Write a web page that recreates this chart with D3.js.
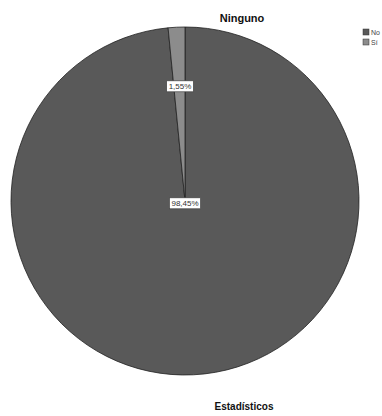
<!DOCTYPE html>
<html><head><meta charset="utf-8">
<script src="https://cdn.jsdelivr.net/npm/d3@7"></script>
<style>body{margin:0;background:#fff}svg{display:block}</style>
</head><body>
<svg id="c" width="382" height="416"></svg>
<script>
const categories = ["No", "Sí"];
const values = [98.45, 1.55];
const labels = ["98,45%", "1,55%"];
const colors = ["#595959", "#8c8c8c"];
const title = "Ninguno";
const footer = "Estadísticos";

const svg = d3.select("#c");
const cx = 185, cy = 201, r = 174;
const pie = d3.pie().sort(null).value(d => d)(values);
const arc = d3.arc().innerRadius(0).outerRadius(r);
const g = svg.append("g").attr("transform", `translate(${cx},${cy})`);
g.selectAll("path").data(pie).join("path")
  .attr("d", arc).attr("fill", (d,i) => colors[i])
  .attr("stroke", "#222").attr("stroke-width", 0.8);

// labels
const labelPos = [[0, 2], [-5, -115]];
pie.forEach((d,i) => {
  const lg = g.append("g").attr("transform", `translate(${labelPos[i][0]},${labelPos[i][1]})`);
  const t = lg.append("text").text(labels[i]).attr("text-anchor","middle").attr("dy","0.35em")
    .attr("font-family","Liberation Sans, Arial, sans-serif").attr("font-size", 8).attr("fill","#333");
  const bb = t.node().getBBox();
  lg.insert("rect","text").attr("x", bb.x-2).attr("y", bb.y-1).attr("width", bb.width+4).attr("height", bb.height+2)
    .attr("fill","#fff").attr("stroke","#444").attr("stroke-width",0.7);
});

svg.append("text").text(title).attr("x", 242).attr("y", 22).attr("text-anchor","middle")
  .attr("font-family","Liberation Sans, Arial, sans-serif").attr("font-weight","bold").attr("font-size", 11).attr("fill","#111");

const leg = svg.append("g").attr("transform","translate(363,29)");
categories.forEach((c,i) => {
  leg.append("rect").attr("x",0).attr("y", i*10).attr("width",6).attr("height",6)
    .attr("fill", colors[i]).attr("stroke","#333").attr("stroke-width",0.5);
  leg.append("text").text(c).attr("x", 8).attr("y", i*10+5.5)
    .attr("font-family","Liberation Sans, Arial, sans-serif").attr("font-size", 7).attr("fill","#444");
});

svg.append("text").text(footer).attr("x", 244).attr("y", 410).attr("text-anchor","middle")
  .attr("font-family","Liberation Sans, Arial, sans-serif").attr("font-weight","bold").attr("font-size", 10).attr("fill","#111");
</script>
</body></html>
